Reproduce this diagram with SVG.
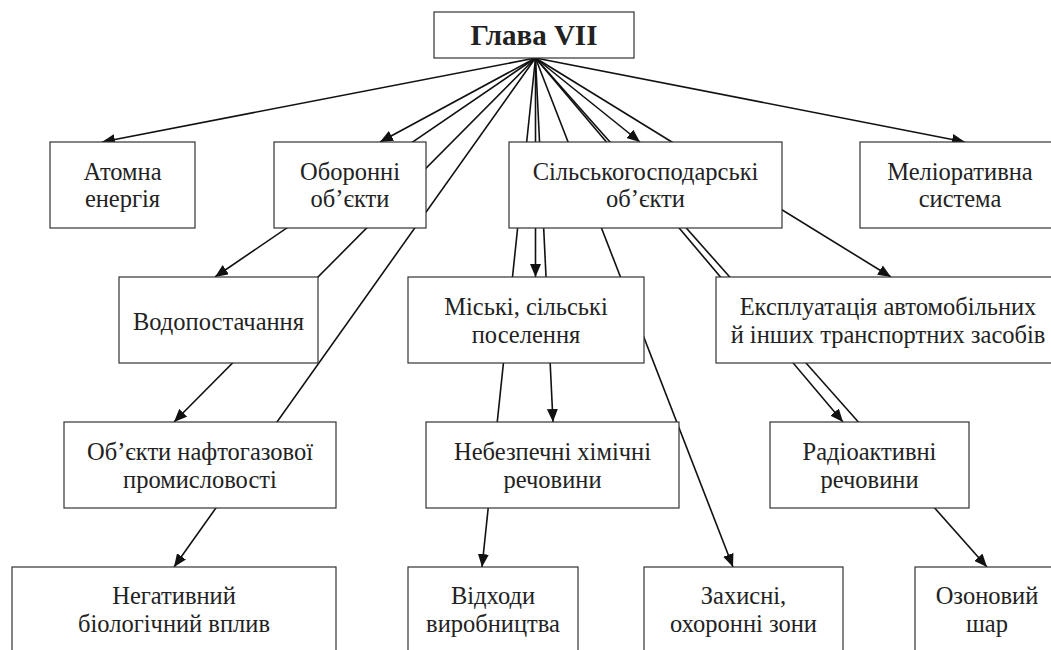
<svg xmlns="http://www.w3.org/2000/svg" width="1051" height="650" viewBox="0 0 1051 650">
<defs>
<marker id="arr" markerUnits="userSpaceOnUse" markerWidth="13" markerHeight="11" refX="13" refY="5.5" orient="auto">
<path d="M0,0 L13,5.5 L0,11 z" fill="#111"/>
</marker>
<style>
.c line{stroke:#111;stroke-width:1.6;fill:none;marker-end:url(#arr)}
.n rect{fill:#fff;stroke:#333;stroke-width:1.2}
.n text{font-family:"Liberation Serif","Times New Roman",serif;font-size:24.5px;fill:#222;text-anchor:middle}
.n text.t{font-weight:bold;font-size:29px}
</style>
</defs>
<rect width="1051" height="650" fill="#fff"/>
<g id="connectors" class="c">
<line x1="535.5" y1="58" x2="102" y2="142"/>
<line x1="535.5" y1="58" x2="380" y2="142"/>
<line x1="535.5" y1="58" x2="215" y2="277"/>
<line x1="535.5" y1="58" x2="174" y2="422"/>
<line x1="535.5" y1="58" x2="174" y2="567"/>
<line x1="535.5" y1="58" x2="482" y2="567"/>
<line x1="535.5" y1="58" x2="535.5" y2="277"/>
<line x1="535.5" y1="58" x2="553" y2="422"/>
<line x1="535.5" y1="58" x2="733" y2="567"/>
<line x1="535.5" y1="58" x2="640" y2="142"/>
<line x1="535.5" y1="58" x2="843" y2="422"/>
<line x1="535.5" y1="58" x2="987" y2="567"/>
<line x1="535.5" y1="58" x2="891" y2="277"/>
<line x1="535.5" y1="58" x2="965" y2="142"/>
</g>
<g id="n-glava" class="n"><rect x="434" y="12" width="200" height="46"/><text class="t" x="534" y="45">Глава VII</text></g>
<g id="n-atom" class="n"><rect x="50" y="142" width="145" height="86"/><text x="122.5" y="180">Атомна</text><text x="122.5" y="207">енергія</text></g>
<g id="n-obor" class="n"><rect x="274" y="142" width="152" height="86"/><text x="350" y="180">Оборонні</text><text x="350" y="207">об’єкти</text></g>
<g id="n-silsk" class="n"><rect x="509" y="142" width="273" height="86"/><text x="645.5" y="180">Сільськогосподарські</text><text x="645.5" y="207">об’єкти</text></g>
<g id="n-melior" class="n"><rect x="860" y="142" width="200" height="86"/><text x="960" y="180">Меліоративна</text><text x="960" y="207">система</text></g>
<g id="n-vodo" class="n"><rect x="119" y="277" width="199" height="86"/><text x="218.5" y="330">Водопостачання</text></g>
<g id="n-misk" class="n"><rect x="408" y="277" width="236" height="86"/><text x="526" y="315">Міські, сільські</text><text x="526" y="343">поселення</text></g>
<g id="n-ekspl" class="n"><rect x="716" y="277" width="345" height="86"/><text x="888" y="315">Експлуатація автомобільних</text><text x="888" y="343">й інших транспортних засобів</text></g>
<g id="n-nafto" class="n"><rect x="64" y="422" width="272" height="86"/><text x="200" y="460">Об’єкти нафтогазової</text><text x="200" y="488">промисловості</text></g>
<g id="n-nebez" class="n"><rect x="426" y="422" width="253" height="86"/><text x="552.5" y="460">Небезпечні хімічні</text><text x="552.5" y="488">речовини</text></g>
<g id="n-radio" class="n"><rect x="770" y="422" width="199" height="86"/><text x="869.5" y="460">Радіоактивні</text><text x="869.5" y="488">речовини</text></g>
<g id="n-neg" class="n"><rect x="12" y="567" width="324" height="100"/><text x="174" y="604">Негативний</text><text x="174" y="632">біологічний вплив</text></g>
<g id="n-vidh" class="n"><rect x="408" y="567" width="170" height="100"/><text x="493" y="604">Відходи</text><text x="493" y="632">виробництва</text></g>
<g id="n-zah" class="n"><rect x="644" y="567" width="199" height="100"/><text x="743.5" y="604">Захисні,</text><text x="743.5" y="632">охоронні зони</text></g>
<g id="n-ozon" class="n"><rect x="915" y="567" width="145" height="100"/><text x="987" y="604">Озоновий</text><text x="987" y="632">шар</text></g>
</svg>
